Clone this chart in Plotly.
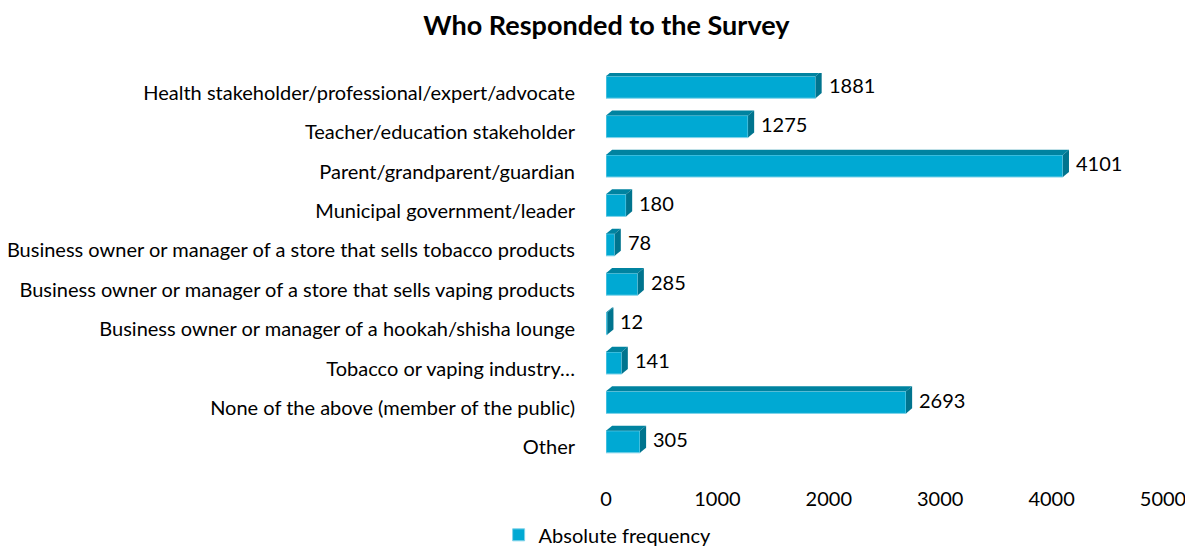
import plotly.graph_objects as go

categories = [
    "Health stakeholder/professional/expert/advocate",
    "Teacher/education stakeholder",
    "Parent/grandparent/guardian",
    "Municipal government/leader",
    "Business owner or manager of a store that sells tobacco products",
    "Business owner or manager of a store that sells vaping products",
    "Business owner or manager of a hookah/shisha lounge",
    "Tobacco or vaping industry…",
    "None of the above (member of the public)",
    "Other",
]
values = [1881, 1275, 4101, 180, 78, 285, 12, 141, 2693, 305]
x_ticks = [0, 1000, 2000, 3000, 4000, 5000]

FONT = "Lato"
FRONT = "#00A9D3"
TOP = "#0083A0"
SIDE = "#00748E"
EDGE = "#7FD3EA"

W = 0.56      # bar thickness (category units)
LIFT = 0.14   # bar raised above its label (category units)
DX = 55       # depth, x (data units)
DY = 0.13     # depth, y (category units)

idx = list(range(len(categories)))
ypos = [i - LIFT for i in idx]

fig = go.Figure()
fig.add_trace(go.Bar(
    x=values, y=ypos, orientation="h", width=W, base=0,
    marker=dict(color=FRONT, line=dict(color=EDGE, width=1)),
    name="Absolute frequency", showlegend=True,
    hoverinfo="x",
))

shapes = []
for v, y in zip(values, ypos):
    yt = y - W / 2
    yb = y + W / 2
    shapes.append(dict(
        type="path", xref="x", yref="y", layer="above",
        path=f"M 0,{yt} L {DX},{yt - DY} L {v + DX},{yt - DY} L {v},{yt} Z",
        fillcolor=TOP, line=dict(width=0),
    ))
    shapes.append(dict(
        type="path", xref="x", yref="y", layer="above",
        path=f"M {v},{yt} L {v + DX},{yt - DY} L {v + DX},{yb - DY} L {v},{yb} Z",
        fillcolor=SIDE, line=dict(width=0),
    ))

annotations = []
for v, y in zip(values, ypos):
    annotations.append(dict(
        x=v + DX, y=y - DY / 2, xref="x", yref="y", text=str(v),
        showarrow=False, xanchor="left", yanchor="middle", xshift=5,
        font=dict(family=FONT, size=20, color="#000000"),
    ))

fig.update_layout(
    width=1185, height=542,
    margin=dict(l=598, r=30, t=65, b=83),
    paper_bgcolor="white", plot_bgcolor="white",
    title=dict(text="<b>Who Responded to the Survey</b>", x=0.505, xanchor="center",
               y=0.968, yanchor="middle", yref="container",
               font=dict(family=FONT, size=27, color="#000000")),
    shapes=shapes, annotations=annotations,
    xaxis=dict(range=[0, 5000], tickvals=x_ticks, showgrid=False, zeroline=False,
               showline=False, ticks="outside", ticklen=14, tickcolor="rgba(0,0,0,0)",
               automargin=False,
               tickfont=dict(family=FONT, size=20, color="#000000")),
    yaxis=dict(range=[9.5, -0.5], tickvals=idx, ticktext=categories, showgrid=False,
               zeroline=False, showline=False, ticks="outside", ticklen=26,
               tickcolor="rgba(0,0,0,0)", automargin=False,
               tickfont=dict(family=FONT, size=20, color="#000000")),
    legend=dict(orientation="h", xref="container", yref="container", x=0.506, y=0.028,
                xanchor="center", yanchor="middle",
                font=dict(family=FONT, size=20, color="#000000")),
    showlegend=True,
)

fig.write_html("out.html")
